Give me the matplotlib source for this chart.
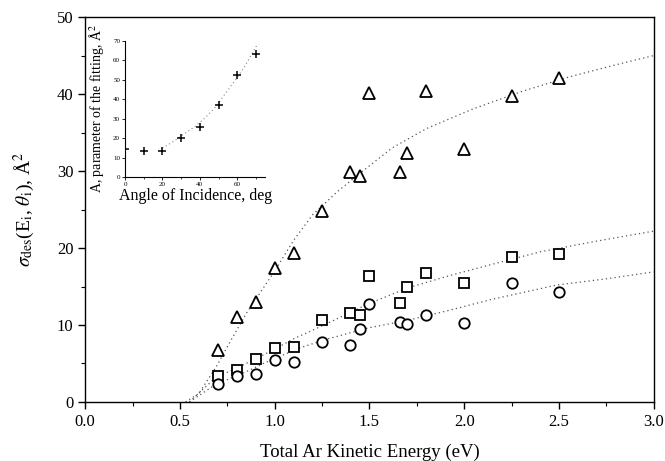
import numpy as np
import matplotlib
matplotlib.use("Agg")
import matplotlib.pyplot as plt
from matplotlib.ticker import MultipleLocator

plt.rcParams["font.family"] = "Liberation Serif"
plt.rcParams["mathtext.fontset"] = "stix"

# Messpunkte
E = [0.7, 0.8, 0.9, 1.0, 1.1, 1.25, 1.4, 1.45, 1.5, 1.66, 1.7, 1.8, 2.0, 2.25, 2.5]
sigma_dreieck = [6.7, 11.0, 13.0, 17.4, 19.4, 24.8, 29.9, 29.3, 40.2, 29.9, 32.4, 40.4, 32.8, 39.7, 42.1]
sigma_quadrat = [3.4, 4.15, 5.55, 7.0, 7.1, 10.65, 11.5, 11.3, 16.4, 12.9, 15.0, 16.8, 15.4, 18.8, 19.2]
sigma_kreis = [2.4, 3.4, 3.7, 5.5, 5.15, 7.8, 7.4, 9.5, 12.7, 10.4, 10.1, 11.3, 10.3, 15.5, 14.3]

# Fitkurven
fit_dreieck_E = [0.53, 0.6, 0.69, 0.76, 0.85, 1.0, 1.1, 1.2, 1.33, 1.45, 1.62, 1.8, 2.05, 2.3, 2.55, 2.8, 3.0]
fit_dreieck_s = [0.0, 1.1, 4.5, 7.6, 11.5, 17.0, 21.0, 24.3, 27.3, 29.7, 33.0, 35.5, 38.1, 40.3, 42.2, 43.8, 45.0]
fit_quadrat_E = [0.55, 0.69, 0.8, 0.89, 0.98, 1.1, 1.26, 1.49, 1.7, 1.92, 2.15, 2.4, 2.7, 3.0]
fit_quadrat_s = [0.0, 3.2, 4.4, 5.5, 6.6, 8.2, 10.0, 12.7, 14.8, 16.4, 17.9, 19.5, 20.9, 22.2]
fit_kreis_E = [0.55, 0.69, 0.83, 0.94, 1.13, 1.26, 1.49, 1.7, 1.92, 2.14, 2.49, 2.75, 3.0]
fit_kreis_s = [0.0, 2.3, 3.7, 5.0, 7.0, 8.05, 9.6, 10.6, 11.9, 13.3, 15.2, 16.0, 16.9]

# Inset: Fitparameter A ueber Einfallswinkel
winkel = [0, 10, 20, 30, 40, 50, 60, 70]
A = [14.3, 13.6, 13.6, 20.2, 25.8, 37.0, 52.5, 63.3]
fit_winkel = [20, 26, 32, 37, 43, 48, 53, 58, 64, 68, 71]
fit_A = [14.8, 18.3, 22.4, 25.6, 30.5, 35.5, 42.0, 48.5, 56.7, 63.5, 68.5]

fig = plt.figure(figsize=(6.65, 4.61), dpi=100)
ax = fig.add_axes([0.128, 0.128, 0.855, 0.835])

for x, y in [(fit_dreieck_E, fit_dreieck_s), (fit_quadrat_E, fit_quadrat_s), (fit_kreis_E, fit_kreis_s)]:
    ax.plot(x, y, linestyle=(0, (1, 2.5)), color="#555555", linewidth=0.9)

stil = dict(linestyle="none", markerfacecolor="white", markeredgecolor="black", markeredgewidth=1.3)
ax.plot(E, sigma_dreieck, marker="^", markersize=9, **stil)
ax.plot(E, sigma_quadrat, marker="s", markersize=7, **stil)
ax.plot(E, sigma_kreis, marker="o", markersize=7.5, **stil)

ax.set_xlim(0, 3.0)
ax.set_ylim(0, 50)
ax.xaxis.set_major_locator(MultipleLocator(0.5))
ax.xaxis.set_minor_locator(MultipleLocator(0.25))
ax.yaxis.set_major_locator(MultipleLocator(10))
ax.yaxis.set_minor_locator(MultipleLocator(5))
ax.xaxis.set_major_formatter(matplotlib.ticker.FormatStrFormatter("%.1f"))
ax.tick_params(which="major", direction="out", length=5, width=1, labelsize=12, top=False, right=False)
ax.tick_params(which="minor", direction="out", length=3, width=0.8, top=False, right=False)
for s in ax.spines.values():
    s.set_linewidth(1.0)
ax.set_xlabel("Total Ar Kinetic Energy (eV)", fontsize=13.5, labelpad=10)
ax.set_ylabel(r"$\sigma_{\rm des}$(E$_{\rm i}$, $\theta_{\rm i}$), Å$^2$", fontsize=14, labelpad=14)

# Inset
ins = fig.add_axes([0.188, 0.616, 0.211, 0.296])
ins.plot(fit_winkel, fit_A, linestyle=(0, (1, 2.5)), color="#888888", linewidth=0.8)
ins.plot(winkel, A, linestyle="none", marker="+", markersize=6, color="black", markeredgewidth=1.1)
ins.set_xlim(0, 75)
ins.set_ylim(0, 70)
ins.spines["top"].set_visible(False)
ins.spines["right"].set_visible(False)
ins.xaxis.set_major_locator(MultipleLocator(20))
ins.xaxis.set_minor_locator(MultipleLocator(10))
ins.yaxis.set_major_locator(MultipleLocator(10))
ins.tick_params(which="major", direction="out", length=2, width=0.6, labelsize=5, pad=1.5)
ins.tick_params(which="minor", direction="out", length=1.5, width=0.5)
for s in ins.spines.values():
    s.set_linewidth(0.8)
ins.set_xlabel("Angle of Incidence, deg", fontsize=11.5, labelpad=1)
ins.set_ylabel("A, parameter of the fitting, Å$^2$", fontsize=10, labelpad=5)
ins.patch.set_alpha(0)

fig.savefig("out.png", dpi=100)
